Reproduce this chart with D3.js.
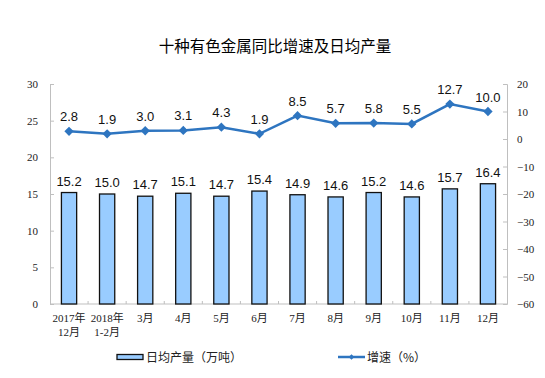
<!DOCTYPE html>
<html>
<head>
<meta charset="utf-8">
<script src="https://cdn.jsdelivr.net/npm/d3@7"></script>
<style>
  body { margin: 0; background: #fff; }
  svg { display: block; }
</style>
</head>
<body>
<div id="chart"></div>
<script>
// ── Data ──────────────────────────────────────────────────────────────────────
const categories = [
  ['2017年', '12月'], ['2018年', '1-2月'], ['3月'], ['4月'], ['5月'], ['6月'],
  ['7月'], ['8月'], ['9月'], ['10月'], ['11月'], ['12月']
];
const output = [15.2, 15.0, 14.7, 15.1, 14.7, 15.4, 14.9, 14.6, 15.2, 14.6, 15.7, 16.4];
const growth = [2.8, 1.9, 3.0, 3.1, 4.3, 1.9, 8.5, 5.7, 5.8, 5.5, 12.7, 10.0];
const leftTicks = [0, 5, 10, 15, 20, 25, 30];
const rightTicks = [-60, -50, -40, -30, -20, -10, 0, 10, 20];

// ── SVG setup ─────────────────────────────────────────────────────────────────
const W = 545, H = 378;
const plot = { left: 50, right: 507, top: 84, bottom: 304 };
const cjk = '"Noto Sans CJK SC", "Noto Sans", sans-serif';
const serif = '"Liberation Serif", "DejaVu Serif", serif';
const sans = '"Liberation Sans", Arial, sans-serif';
const axisColor = '#bfbfbf';
const lineColor = '#2e75c0';

const svg = d3.select('#chart').append('svg')
  .attr('width', W).attr('height', H);

const x = d3.scaleBand()
  .domain(d3.range(categories.length))
  .range([plot.left, plot.right])
  .paddingInner(0.6).paddingOuter(0.3);
const yL = d3.scaleLinear().domain([0, 30]).range([plot.bottom, plot.top]);
const yR = d3.scaleLinear().domain([-60, 20]).range([plot.bottom, plot.top]);
const cx = i => x(i) + x.bandwidth() / 2;
const step = (plot.right - plot.left) / categories.length;

// Title
svg.append('text')
  .attr('x', 275).attr('y', 52)
  .attr('text-anchor', 'middle')
  .attr('font-family', cjk).attr('font-size', 15.5).attr('fill', '#000')
  .text('十种有色金属同比增速及日均产量');

// ── Axes ──────────────────────────────────────────────────────────────────────
const leftAxis = svg.append('g')
  .attr('transform', `translate(${plot.left},0)`)
  .call(d3.axisRight(yL).tickValues(leftTicks).tickSize(4).tickFormat(d3.format('d')));
leftAxis.selectAll('text').attr('x', -12).attr('text-anchor', 'end');

const rightAxis = svg.append('g')
  .attr('transform', `translate(${plot.right},0)`)
  .call(d3.axisLeft(yR).tickValues(rightTicks).tickSize(4).tickFormat(d3.format('d')));
rightAxis.selectAll('text').attr('x', 10).attr('text-anchor', 'start');

[leftAxis, rightAxis].forEach(a => {
  a.select('.domain').attr('stroke', axisColor);
  a.selectAll('line').attr('stroke', axisColor);
  a.selectAll('text').attr('font-family', serif).attr('font-size', 11).attr('fill', '#222');
});

// Bottom baseline with boundary ticks
const bottom = svg.append('g');
bottom.append('line')
  .attr('x1', plot.left).attr('x2', plot.right)
  .attr('y1', plot.bottom).attr('y2', plot.bottom)
  .attr('stroke', axisColor);
bottom.selectAll('line.tick')
  .data(d3.range(1, categories.length))
  .join('line').attr('class', 'tick')
  .attr('x1', i => plot.left + i * step).attr('x2', i => plot.left + i * step)
  .attr('y1', plot.bottom).attr('y2', plot.bottom - 3)
  .attr('stroke', axisColor);

// Category labels
const catLabels = svg.append('g').selectAll('text')
  .data(categories)
  .join('text')
  .attr('text-anchor', 'middle')
  .attr('font-family', `${serif.split(',')[0]}, ${cjk}`)
  .attr('font-size', 11).attr('fill', '#222');
catLabels.selectAll('tspan')
  .data((d, i) => d.map(s => ({ s, i })))
  .join('tspan')
  .attr('x', d => cx(d.i))
  .attr('y', (d, j) => 322 + j * 14)
  .text(d => d.s);

// ── Bars ──────────────────────────────────────────────────────────────────────
svg.append('g').selectAll('rect')
  .data(output)
  .join('rect')
  .attr('x', (d, i) => x(i)).attr('width', x.bandwidth())
  .attr('y', d => yL(d)).attr('height', d => yL(0) - yL(d))
  .attr('fill', '#99ccff').attr('stroke', '#111').attr('stroke-width', 1.3);

svg.append('g').selectAll('text')
  .data(output)
  .join('text')
  .attr('x', (d, i) => cx(i)).attr('y', d => yL(d) - 7)
  .attr('text-anchor', 'middle')
  .attr('font-family', sans).attr('font-size', 13).attr('fill', '#111')
  .text(d => d.toFixed(1));

// ── Line ──────────────────────────────────────────────────────────────────────
const line = d3.line().x((d, i) => cx(i)).y(d => yR(d));
svg.append('path')
  .datum(growth)
  .attr('d', line)
  .attr('fill', 'none').attr('stroke', lineColor).attr('stroke-width', 2.5);

const diamond = d3.symbol().type(d3.symbolDiamond2).size(55);
svg.append('g').selectAll('path')
  .data(growth)
  .join('path')
  .attr('transform', (d, i) => `translate(${cx(i)},${yR(d)})`)
  .attr('d', diamond)
  .attr('fill', lineColor);

svg.append('g').selectAll('text')
  .data(growth)
  .join('text')
  .attr('x', (d, i) => cx(i)).attr('y', d => yR(d) - 10)
  .attr('text-anchor', 'middle')
  .attr('font-family', sans).attr('font-size', 13).attr('fill', '#111')
  .text(d => d.toFixed(1));

// ── Legend ────────────────────────────────────────────────────────────────────
const legend = svg.append('g').attr('font-family', cjk).attr('font-size', 12).attr('fill', '#222');
legend.append('rect')
  .attr('x', 117).attr('y', 354.5).attr('width', 26).attr('height', 5)
  .attr('fill', '#99ccff').attr('stroke', '#111').attr('stroke-width', 1.3);
legend.append('text').attr('x', 146).attr('y', 361.5).text('日均产量（万吨）');

legend.append('line')
  .attr('x1', 338).attr('x2', 365).attr('y1', 357).attr('y2', 357)
  .attr('stroke', lineColor).attr('stroke-width', 2.5);
legend.append('path')
  .attr('transform', 'translate(351.5,357)')
  .attr('d', d3.symbol().type(d3.symbolDiamond2).size(20))
  .attr('fill', lineColor);
legend.append('text').attr('x', 367).attr('y', 361.5).text('增速（%）');
</script>
</body>
</html>
